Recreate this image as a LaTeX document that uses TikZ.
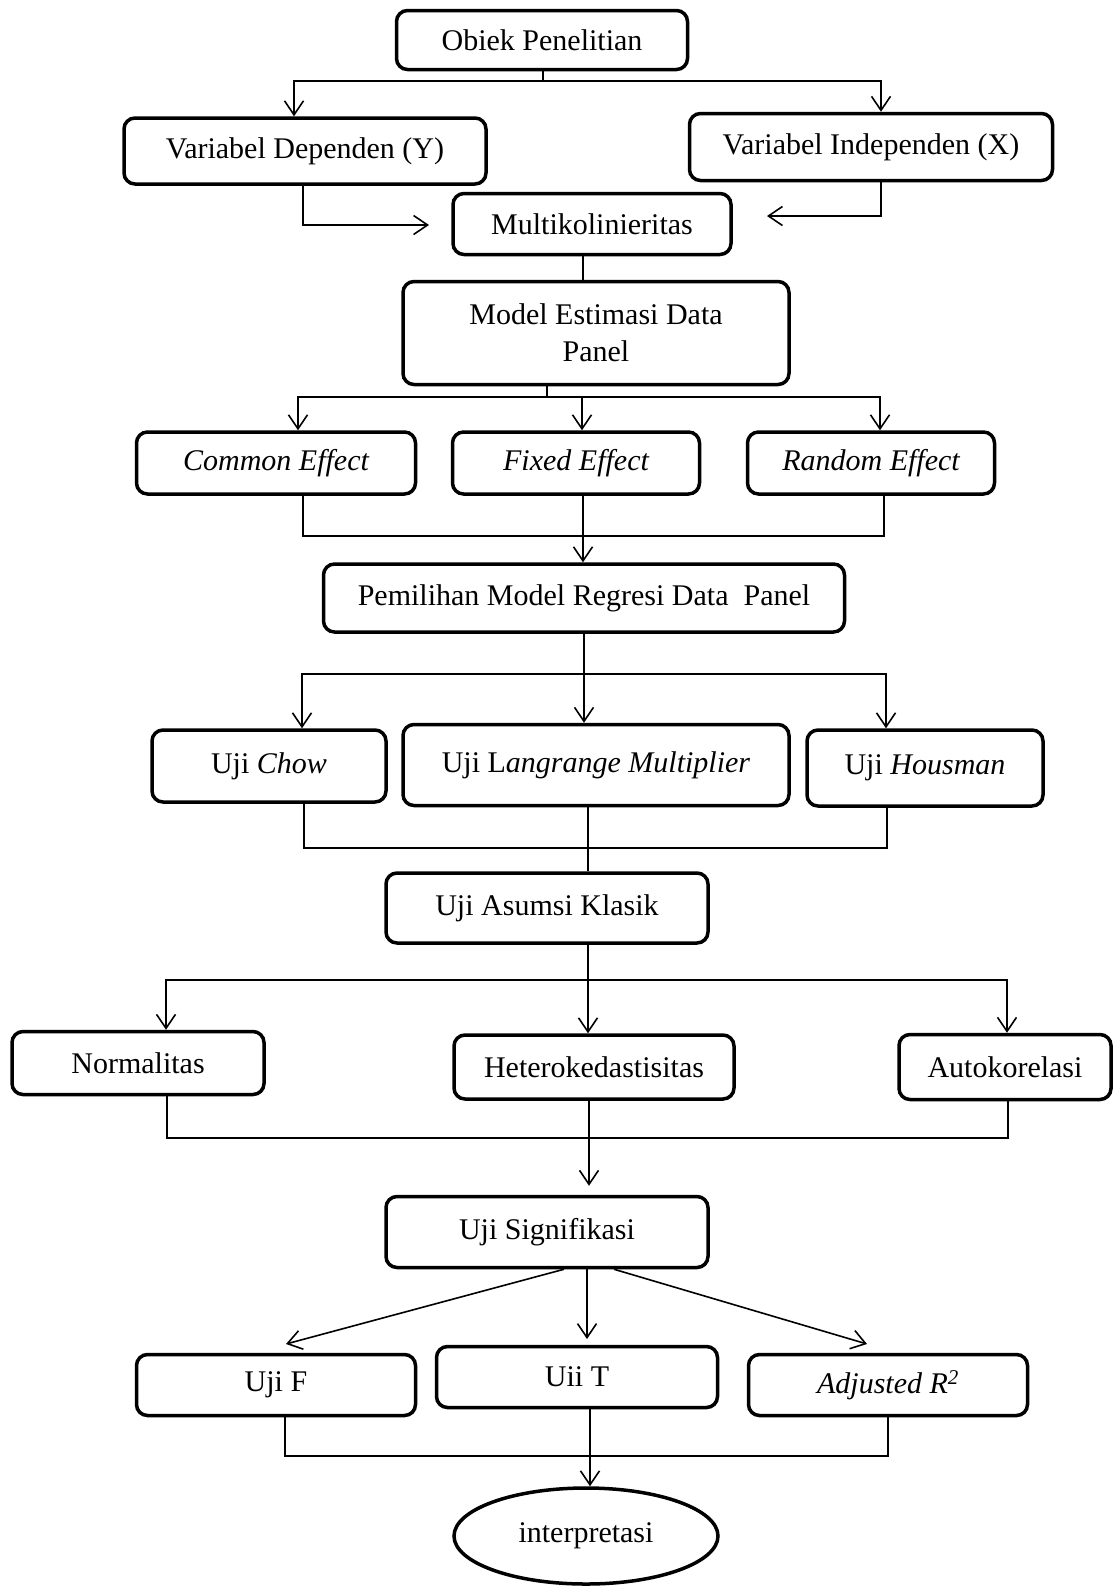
\documentclass[tikz,border=0pt]{standalone}
\usepackage{fontspec}
\setmainfont{Liberation Serif}
\usetikzlibrary{arrows.meta,shapes.geometric}

\begin{document}
\begin{tikzpicture}[x=1pt,y=-1pt,
    font=\fontsize{30}{37}\selectfont,
    flowbox/.style={draw, line width=3.5pt, rounded corners=11pt, inner sep=0pt, align=center},
    flowline/.style={line width=1.6pt},
    flowarrow/.style={flowline, -{Straight Barb[length=14pt,width=19pt]}}]
    \useasboundingbox (0,0) rectangle (1115,1588);

    \node[flowbox, minimum width=291pt, minimum height=59pt] (obiek) at (542,40) {Obiek Penelitian};
    \node[flowbox, minimum width=362pt, minimum height=66pt] (vardep) at (305,151) {Variabel Dependen (Y)};
    \node[flowbox, minimum width=363pt, minimum height=67pt] (varindep) at (871,147) {Variabel Independen (X)};
    \node[flowbox, minimum width=278pt, minimum height=61pt] (multi) at (592,224) {Multikolinieritas};
    \node[flowbox, minimum width=386pt, minimum height=103pt] (model) at (596,333) {Model Estimasi Data\\Panel};

    \node[flowbox, minimum width=279pt, minimum height=62pt] (common) at (276,463) {\itshape Common Effect};
    \node[flowbox, minimum width=247pt, minimum height=62pt] (fixed) at (576,463) {\itshape Fixed Effect};
    \node[flowbox, minimum width=247pt, minimum height=62pt] (random) at (871,463) {\itshape Random Effect};
    \node[flowbox, minimum width=521pt, minimum height=68pt] (pemilihan) at (584,598) {Pemilihan Model Regresi Data~~Panel};

    \node[flowbox, minimum width=234pt, minimum height=72pt] (chow) at (269,766) {Uji \textit{Chow}};
    \node[flowbox, minimum width=386pt, minimum height=81pt] (lm) at (596,765) {Uji L\textit{angrange Multiplier}};
    \node[flowbox, minimum width=236pt, minimum height=76pt] (housman) at (925,768) {Uji \textit{Housman}};
    \node[flowbox, minimum width=322pt, minimum height=70pt] (asumsi) at (547,908) {Uji Asumsi Klasik};

    \node[flowbox, minimum width=252pt, minimum height=63pt] (normal) at (138,1063) {Normalitas};
    \node[flowbox, minimum width=280pt, minimum height=64pt] (hetero) at (594,1067) {Heterokedastisitas};
    \node[flowbox, minimum width=212pt, minimum height=65pt] (auto) at (1005,1067) {Autokorelasi};
    \node[flowbox, minimum width=322pt, minimum height=71pt] (signif) at (547,1232) {Uji Signifikasi};

    \node[flowbox, minimum width=279pt, minimum height=61pt] (ujif) at (276,1385) {Uji F};
    \node[flowbox, minimum width=281pt, minimum height=61pt] (ujit) at (577,1377) {Uii T};
    \node[flowbox, minimum width=279pt, minimum height=61pt] (adj) at (888,1385) {\textit{Adjusted R\textsuperscript{2}}};
    \node[draw, ellipse, line width=3.5pt, inner sep=0pt, minimum width=264pt, minimum height=96pt] (interp) at (586,1536) {interpretasi};

    % obiek -> variabel
    \coordinate (a0) at (543,81);
    \coordinate (a1) at (294,81);
    \coordinate (a2) at (881,81);
    \draw[flowline] (a0 |- obiek.south) -- (a0);
    \draw[flowarrow] (a0) -- (a1) -- (a1 |- vardep.north);
    \draw[flowarrow] (a0) -- (a2) -- (a2 |- varindep.north);

    % variabel -> multikolinieritas
    \coordinate (b1) at (303,225);
    \coordinate (b2) at (429,225);
    \coordinate (b3) at (881,216);
    \coordinate (b4) at (767,216);
    \draw[flowarrow] (b1 |- vardep.south) -- (b1) -- (b2);
    \draw[flowarrow] (b3 |- varindep.south) -- (b3) -- (b4);

    \coordinate (c0) at (583,270);
    \draw[flowline] (c0 |- multi.south) -- (c0 |- model.north);

    % model -> effect
    \coordinate (d0) at (547,397);
    \coordinate (d1) at (298,397);
    \coordinate (d2) at (880,397);
    \coordinate (d3) at (582,397);
    \draw[flowline] (d0 |- model.south) -- (d0);
    \draw[flowarrow] (d0) -- (d1) -- (d1 |- common.north);
    \draw[flowarrow] (d0) -- (d2) -- (d2 |- random.north);
    \draw[flowarrow] (d3) -- (d3 |- fixed.north);

    % effect -> pemilihan
    \coordinate (e1) at (303,536);
    \coordinate (e2) at (884,536);
    \coordinate (e3) at (583,536);
    \draw[flowline] (e1 |- common.south) -- (e1) -- (e2) -- (e2 |- random.south);
    \draw[flowarrow] (e3 |- fixed.south) -- (e3 |- pemilihan.north);

    % pemilihan -> uji
    \coordinate (f1) at (302,674);
    \coordinate (f2) at (886,674);
    \coordinate (f3) at (584,674);
    \draw[flowarrow] (f3 |- pemilihan.south) -- (f3 |- lm.north);
    \draw[flowarrow] (f3) -- (f1) -- (f1 |- chow.north);
    \draw[flowarrow] (f3) -- (f2) -- (f2 |- housman.north);

    % uji -> asumsi
    \coordinate (g1) at (304,848);
    \coordinate (g2) at (887,848);
    \coordinate (g3) at (588,848);
    \draw[flowline] (g1 |- chow.south) -- (g1) -- (g2) -- (g2 |- housman.south);
    \draw[flowline] (g3 |- lm.south) -- (g3 |- asumsi.north);

    % asumsi -> normalitas, hetero, auto
    \coordinate (h1) at (166,980);
    \coordinate (h2) at (1007,980);
    \coordinate (h3) at (588,980);
    \draw[flowarrow] (h3 |- asumsi.south) -- (h3 |- hetero.north);
    \draw[flowarrow] (h3) -- (h1) -- (h1 |- normal.north);
    \draw[flowarrow] (h3) -- (h2) -- (h2 |- auto.north);

    % -> signifikasi
    \coordinate (k1) at (167,1138);
    \coordinate (k2) at (1008,1138);
    \coordinate (k3) at (589,1138);
    \draw[flowline] (k1 |- normal.south) -- (k1) -- (k2) -- (k2 |- auto.south);
    \draw[flowarrow, shorten >=9pt] (k3 |- hetero.south) -- (k3 |- signif.north);

    % signifikasi -> uji F, T, R2
    \coordinate (m1) at (286,1344);
    \coordinate (m2) at (587,1339);
    \coordinate (m3) at (867,1344);
    \draw[flowarrow] ([xshift=17pt]signif.south) -- (m1);
    \draw[flowarrow] (m2 |- signif.south) -- (m2);
    \draw[flowarrow] ([xshift=67pt]signif.south) -- (m3);

    % -> interpretasi
    \coordinate (p1) at (285,1456);
    \coordinate (p2) at (888,1456);
    \coordinate (p3) at (590,1456);
    \draw[flowline] (p1 |- ujif.south) -- (p1) -- (p2) -- (p2 |- adj.south);
    \draw[flowarrow] (p3 |- ujit.south) -- (p3 |- interp.north);
\end{tikzpicture}
\end{document}
